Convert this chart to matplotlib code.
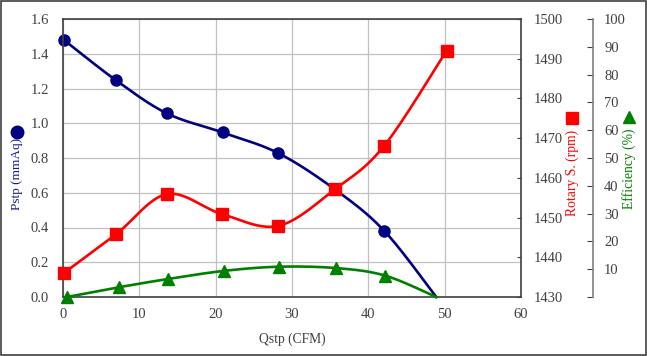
import numpy as np
import matplotlib
matplotlib.use('Agg')
import matplotlib.pyplot as plt
from matplotlib.lines import Line2D
from matplotlib.patches import Rectangle

# data
q_p = [0.1, 6.95, 13.6, 20.9, 28.2, 35.6, 42.1, 48.9]
pstp = [1.48, 1.247, 1.057, 0.947, 0.828, 0.62, 0.38, 0.0]

q_r = [0.1, 6.95, 13.6, 20.8, 28.2, 35.6, 42.05, 50.25]
rpm = [1436.0, 1445.8, 1455.9, 1450.9, 1447.9, 1457.1, 1468.0, 1492.0]

q_e = [0.5, 7.3, 13.8, 21.1, 28.35, 35.8, 42.2, 48.9]
eff = [0.0, 3.5, 6.5, 9.4, 10.9, 10.4, 7.7, 0.0]

x_ticks = [0, 10, 20, 30, 40, 50, 60]
p_ticks = [0.0, 0.2, 0.4, 0.6, 0.8, 1.0, 1.2, 1.4, 1.6]
r_ticks = [1430, 1440, 1450, 1460, 1470, 1480, 1490, 1500]
e_ticks = [0, 10, 20, 30, 40, 50, 60, 70, 80, 90, 100]

NAVY = '#000080'
RED = '#ff0000'
GREEN = '#008000'
TXT = '#404040'

plt.rcParams['font.family'] = ['Liberation Serif', 'DejaVu Serif']
plt.rcParams['font.size'] = 10


def smooth(x, y, n=25):
    # excel style smoothed line (bezier, 1/6 tension)
    p = np.column_stack([x, y]).astype(float)
    pts = [p[0]]
    for i in range(len(p) - 1):
        p0 = p[i - 1] if i > 0 else p[i]
        p1 = p[i]
        p2 = p[i + 1]
        p3 = p[i + 2] if i + 2 < len(p) else p[i + 1]
        c1 = p1 + (p2 - p0) / 6
        c2 = p2 - (p3 - p1) / 6
        t = np.linspace(0, 1, n)[1:, None]
        seg = ((1 - t) ** 3) * p1 + 3 * ((1 - t) ** 2) * t * c1 + 3 * (1 - t) * t ** 2 * c2 + t ** 3 * p2
        pts.extend(seg)
    pts = np.array(pts)
    return pts[:, 0], pts[:, 1]


fig = plt.figure(figsize=(6.47, 3.56), dpi=100)
ax = fig.add_axes([63 / 647, 1 - 297 / 356, 458 / 647, 278 / 356])
ax2 = ax.twinx()
ax3 = ax.twinx()

# pressure
sx, sy = smooth(q_p, pstp)
ax.plot(sx, sy, color=NAVY, lw=1.9, clip_on=False)
ax.plot(q_p[:-1], pstp[:-1], 'o', color=NAVY, ms=8, clip_on=False)
ax.set_xlim(0, 60)
ax.set_ylim(0, 1.6)
ax.set_xticks(x_ticks)
ax.set_yticks(p_ticks)
ax.set_yticklabels(['%.1f' % v for v in p_ticks])
ax.grid(True, color='#c0c0c0', lw=0.9)
ax.set_axisbelow(True)
ax.tick_params(axis='both', length=0, colors=TXT, labelsize=10.5)
ax.tick_params(axis='y', pad=10)
ax.tick_params(axis='x', pad=8)
for s in ax.spines.values():
    s.set_color('#404040')
    s.set_linewidth(1.2)
ax.set_xlabel('Qstp (CFM)', color=TXT, fontsize=9.8, labelpad=8)

# rotary speed
sx, sy = smooth(q_r, rpm)
ax2.plot(sx, sy, color=RED, lw=1.9, clip_on=False)
ax2.plot(q_r, rpm, 's', color=RED, ms=8.5, clip_on=False)
ax2.set_ylim(1430, 1500)
ax2.set_yticks(r_ticks)
ax2.tick_params(axis='y', direction='in', length=3, colors=TXT, labelsize=10.5, pad=9)
for s in ax2.spines.values():
    s.set_visible(False)

# efficiency
sx, sy = smooth(q_e, eff)
ax3.plot(sx, sy, color=GREEN, lw=1.9, clip_on=False)
ax3.plot(q_e[:-1], eff[:-1], '^', color=GREEN, ms=8, clip_on=False)
ax3.set_ylim(0, 100)
ax3.set_yticks(e_ticks)
ax3.set_yticklabels([''] + [str(v) for v in e_ticks[1:]])
ax3.spines['right'].set_position(('axes', 1.157))
ax3.spines['right'].set_color('#808080')
ax3.spines['right'].set_linewidth(1.2)
for k in ['left', 'top', 'bottom']:
    ax3.spines[k].set_visible(False)
ax3.tick_params(axis='y', direction='in', length=4, colors=TXT, labelsize=10.5, pad=8)

# axis titles with their series symbols
fig.text(17 / 647, 1 - 174 / 356, 'Pstp (mmAq)', rotation=90, color='#1a1a99',
         ha='center', va='center', fontsize=9.5)
fig.add_artist(Line2D([17 / 647], [1 - 132 / 356], marker='o', color=NAVY, ms=9,
                      transform=fig.transFigure))
fig.text(572 / 647, 1 - 173 / 356, 'Rotary S. (rpm)', rotation=90, color=RED,
         ha='center', va='center', fontsize=9.8)
fig.add_artist(Line2D([572 / 647], [1 - 118 / 356], marker='s', color=RED, ms=9,
                      transform=fig.transFigure))
fig.text(629 / 647, 1 - 169 / 356, 'Efficiency (%)', rotation=90, color=GREEN,
         ha='center', va='center', fontsize=9.8)
fig.add_artist(Line2D([629 / 647], [1 - 117 / 356], marker='^', color=GREEN, ms=9,
                      transform=fig.transFigure))

fig.add_artist(Rectangle((0.001, 0.002), 0.997, 0.996, transform=fig.transFigure,
                         fill=False, edgecolor='#404040', lw=1.2))

fig.savefig('out.png', dpi=100)
